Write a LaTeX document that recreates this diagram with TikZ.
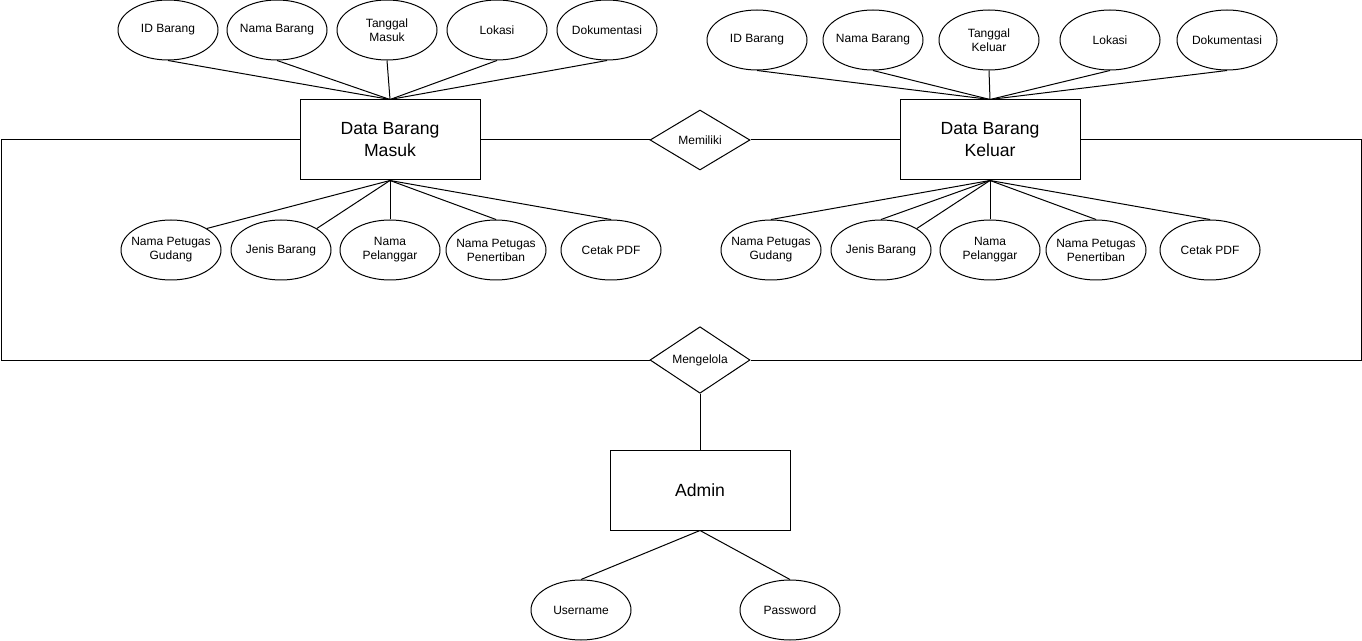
\documentclass[tikz,border=0pt]{standalone}
\usepackage{fontspec}
\setmainfont{Liberation Sans}
\usetikzlibrary{shapes.geometric}
\tikzset{
    attr/.style={draw, ellipse, minimum width=75pt, minimum height=45pt, inner xsep=-4pt, inner ysep=0pt, align=center, font=\fontsize{9}{10.5}\selectfont},
    entity/.style={draw, rectangle, minimum width=135pt, minimum height=60pt, align=center, font=\fontsize{13.2}{16.5}\selectfont},
    relasi/.style={draw, diamond, minimum width=75pt, minimum height=45pt, inner sep=0pt, font=\fontsize{9}{10.5}\selectfont}
}

\begin{document}
\begin{tikzpicture}[x=0.75pt, y=-0.75pt, line width=0.75pt]
\useasboundingbox (0,0) rectangle (1362,641);
% entitas dan relasi
\node[entity] (masuk) at (390,140) {Data Barang\\Masuk};
\node[entity] (keluar) at (990,140) {Data Barang\\Keluar};
\node[entity] (admin) at (700,490) {Admin};
\node[relasi] (miliki) at (700,140) {Memiliki};
\node[relasi] (kelola) at (700,360) {Mengelola};

% atribut atas
\foreach \x/\n/\t in {168/m1/ID Barang, 277/m2/Nama Barang, 387/m3/{Tanggal\\Masuk}, 497/m4/Lokasi, 607/m5/Dokumentasi}
{
    \node[attr] (\n) at (\x,30) {\t};
    \draw (\n.south)--(masuk.north);
}
\foreach \x/\n/\t in {757/k1/ID Barang, 873/k2/Nama Barang, 989/k3/{Tanggal\\Keluar}, 1110/k4/Lokasi, 1227/k5/Dokumentasi}
{
    \node[attr] (\n) at (\x,40) {\t};
    \draw (\n.south)--(keluar.north);
}

% atribut bawah
\foreach \x/\n/\a/\t in {171/mb1/31/{Nama Petugas\\Gudang}, 281/mb2/31/Jenis Barang, 390/mb3/north/{Nama\\Pelanggar}, 496/mb4/north/{Nama Petugas\\Penertiban}, 611/mb5/north/Cetak PDF}
{
    \node[attr] (\n) at (\x,250) {\t};
    \draw (\n.\a)--(masuk.south);
}
\foreach \x/\n/\a/\t in {771/kb1/north/{Nama Petugas\\Gudang}, 881/kb2/north/Jenis Barang, 990/kb3/north/{Nama\\Pelanggar}, 1096/kb4/north/{Nama Petugas\\Penertiban}, 1210/kb5/north/Cetak PDF}
{
    \node[attr] (\n) at (\x,250) {\t};
    \draw (\n.\a)--(keluar.south);
}
\draw (kb2.31)--(keluar.south);

% relasi
\draw (masuk.east)--(miliki.west);
\draw (miliki.east)--(keluar.west);
\coordinate (kiri) at (1,360);
\coordinate (kanan) at (1361,360);
\draw (masuk.west) -| (kiri) -- (kelola.west);
\draw (keluar.east) -| (kanan) -- (kelola.east);
\draw (kelola.south)--(admin.north);

% atribut admin
\node[attr] (user) at (581,610) {Username};
\node[attr] (pass) at (790,610) {Password};
\draw (user.north)--(admin.south);
\draw (pass.north)--(admin.south);
\end{tikzpicture}
\end{document}
